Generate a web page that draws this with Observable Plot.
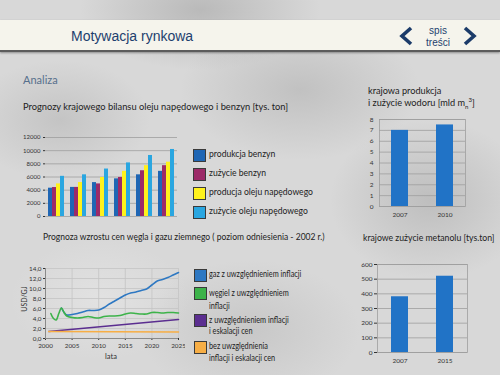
<!DOCTYPE html>
<html>
<head>
<meta charset="utf-8">
<script src="https://cdn.jsdelivr.net/npm/d3@7"></script>
<script src="https://cdn.jsdelivr.net/npm/@observablehq/plot@0.6"></script>
<style>
  html, body { margin: 0; padding: 0; }
  body { width: 500px; height: 375px; overflow: hidden; }
  #page {
    position: relative; width: 500px; height: 375px; overflow: hidden;
    font-family: Lato, "Open Sans", sans-serif; color: #222;
    background:
      radial-gradient(ellipse 90px 60px at 60px 120px, rgba(150,150,150,0.3), rgba(150,150,150,0) 100%),
      radial-gradient(ellipse 120px 70px at 300px 90px, rgba(140,140,140,0.3), rgba(140,140,140,0) 100%),
      radial-gradient(ellipse 100px 80px at 430px 200px, rgba(130,130,130,0.3), rgba(130,130,130,0) 100%),
      radial-gradient(ellipse 110px 70px at 250px 330px, rgba(150,150,150,0.25), rgba(150,150,150,0) 100%),
      radial-gradient(ellipse 90px 60px at 100px 300px, rgba(235,235,235,0.5), rgba(235,235,235,0) 100%),
      radial-gradient(ellipse 120px 60px at 200px 10px, rgba(140,140,140,0.4), rgba(140,140,140,0) 100%),
      #d8d8d8;
  }
  .abs { position: absolute; white-space: nowrap; line-height: 1; }
  #header {
    position: absolute; left: 0; top: 20px; width: 500px; height: 30px;
    background: #f5f4ec; border-bottom: 2px solid #5c5c5c;
    box-shadow: 0 1px 2px rgba(0,0,0,0.35);
  }
  .sw { position: absolute; width: 11px; height: 11px; border: 1px solid #3a3a3a; }
  .chart { position: absolute; }
  .cond { transform: scaleX(0.85); transform-origin: left center; }
</style>
</head>
<body>
<div id="page">
  <div id="header"></div>
  <div class="abs" style="left:71px; top:29px; font-family:'Liberation Sans',Arial,sans-serif; font-size:14px; color:#1d3f6e;">Motywacja rynkowa</div>
  <svg class="chart" style="left:398px; top:26px;" width="20" height="20" viewBox="0 0 20 20">
    <polyline points="13,2 4,10 13,18" fill="none" stroke="#1b3b69" stroke-width="3.6"/>
  </svg>
  <svg class="chart" style="left:460px; top:26px;" width="20" height="20" viewBox="0 0 20 20">
    <polyline points="5,2 14,10 5,18" fill="none" stroke="#1b3b69" stroke-width="3.6"/>
  </svg>
  <div class="abs" style="left:420px; top:25px; width:36px; text-align:center; font-family:'Liberation Sans',Arial,sans-serif; font-size:10px; line-height:12px; color:#1d3f6e;">spis<br>treści</div>

  <div class="abs" style="left:23px; top:74px; font-size:11px; color:#566f8c;">Analiza</div>
  <div class="abs" style="left:23px; top:102px; font-size:9.3px; color:#222;">Prognozy krajowego bilansu oleju napędowego i benzyn [tys. ton]</div>
  <div class="abs" style="left:43px; top:233px; font-size:8.5px; color:#222;">Prognoza wzrostu cen węgla i gazu ziemnego ( poziom odniesienia - 2002 r.)</div>

  <div class="abs" style="left:368px; top:86px; font-size:9.2px; color:#222;">krajowa produkcja</div>
  <div class="abs" style="left:368px; top:97px; font-size:9.2px; color:#222;">i zużycie wodoru [mld m<sub style="font-size:6px;">n</sub><sup style="font-size:6px;">3</sup>]</div>
  <div class="abs" style="left:363px; top:234px; font-size:8.7px; color:#222;">krajowe zużycie metanolu [tys.ton]</div>

  <div id="barLegend"></div>
  <div id="lineLegend"></div>

  <div class="abs" style="left:24px; top:299px; font-size:7px; color:#333; transform:translate(-50%,-50%) rotate(-90deg); transform-origin:center;">USD/GJ</div>
  <div class="abs" style="left:111px; top:357px; font-size:7.5px; color:#333; transform:translate(-50%,-50%);">lata</div>

  <div id="barChart" class="chart" style="left:0px; top:130px;"></div>
  <div id="lineChart" class="chart" style="left:0px; top:255px;"></div>
  <div id="h2Chart" class="chart" style="left:355px; top:110px;"></div>
  <div id="meChart" class="chart" style="left:355px; top:255px;"></div>
</div>
<script>
// ---------- DATA ----------
const barGroups = ["1", "2", "3", "4", "5", "6"];
const barSeries = ["produkcja benzyn", "zużycie benzyn", "producja oleju napędowego", "zużycie oleju napędowego"];
const produkcjaBenzyn = [4300, 4420, 5150, 5720, 6330, 6860];
const zuzycieBenzyn = [4400, 4420, 4950, 5930, 6950, 7720];
const produkcjaOleju = [4950, 5160, 5930, 6860, 7720, 8250];
const zuzycieOleju = [6100, 6330, 7210, 8140, 9270, 10180];
const barYTicks = [0, 2000, 4000, 6000, 8000, 10000, 12000];
const barColors = ["#1f66b4", "#9c2a68", "#fff21c", "#2aa6e0"];

const lineSeries = ["gaz z uwzględnieniem inflacji", "węgiel z uwzględnieniem inflacji", "z uwzględnieniem inflacji i eskalacji cen", "bez uwzględnienia inflacji i eskalacji cen"];
const gasYears = [2003, 2003.5, 2004, 2005, 2006, 2007, 2008, 2009, 2010, 2011, 2012, 2013, 2014, 2015, 2016, 2017, 2018, 2019, 2020, 2021, 2022, 2023, 2024, 2025];
const gasValues = [6.1, 5.2, 4.7, 4.8, 5.0, 5.3, 5.6, 5.6, 5.7, 6.2, 6.9, 7.5, 8.1, 8.7, 9.1, 9.3, 9.6, 9.9, 10.7, 11.5, 11.8, 12.2, 12.7, 13.2];
const coalYears = [2001, 2001.5, 2002, 2002.5, 2003, 2003.5, 2004, 2005, 2006, 2007, 2008, 2009, 2010, 2011, 2012, 2013, 2014, 2015, 2016, 2017, 2018, 2019, 2020, 2021, 2022, 2023, 2024, 2025];
const coalValues = [5.0, 4.0, 3.7, 5.0, 6.1, 5.2, 4.5, 4.2, 4.1, 4.2, 4.4, 4.2, 4.1, 4.4, 4.5, 4.5, 4.6, 4.9, 5.1, 5.0, 4.9, 4.9, 5.2, 5.2, 5.1, 5.2, 5.2, 5.1];
const escYears = [2000.6, 2025];
const escValues = [1.4, 3.8];
const flatYears = [2000.6, 2025];
const flatValues = [1.4, 1.3];
const lineXTicks = [2000, 2005, 2010, 2015, 2020, 2025];
const lineYTicks = [0, 2, 4, 6, 8, 10, 12, 14];
const lineColors = ["#2e78c2", "#3db34a", "#5b2e90", "#f7ae45"];

const h2Years = ["2007", "2010"];
const h2Values = [7.0, 7.5];
const h2Ticks = [0, 1, 2, 3, 4, 5, 6, 7, 8];
const meYears = ["2007", "2015"];
const meValues = [380, 520];
const meTicks = [0, 100, 200, 300, 400, 500, 600];
const smallBarColor = "#2173c6";

// ---------- LEGENDS ----------
const barLegend = document.getElementById("barLegend");
const barLegendY = [155, 174, 193, 212];
barSeries.forEach((s, i) => {
  const sw = document.createElement("div");
  sw.className = "sw";
  sw.style.left = "193px"; sw.style.top = (barLegendY[i] - 6) + "px";
  sw.style.background = barColors[i];
  barLegend.appendChild(sw);
  const t = document.createElement("div");
  t.className = "abs";
  t.style.cssText = `left:209px; top:${barLegendY[i] - 5}px; font-size:8.6px; color:#222;`;
  t.textContent = s;
  barLegend.appendChild(t);
});

const lineLegend = document.getElementById("lineLegend");
const lineLegendSw = [275, 293, 320, 347];
const lineLegendText = [
  [["gaz z uwzględnieniem inflacji", 274]],
  [["węgiel z uwzględnieniem", 293], ["inflacji", 306]],
  [["z uwzględnieniem inflacji", 320], ["i eskalacji cen", 331]],
  [["bez uwzględnienia", 346], ["inflacji i eskalacji cen", 358]]
];
lineSeries.forEach((s, i) => {
  const sw = document.createElement("div");
  sw.className = "sw";
  sw.style.left = "194px"; sw.style.top = (lineLegendSw[i] - 6) + "px";
  sw.style.background = lineColors[i];
  lineLegend.appendChild(sw);
  lineLegendText[i].forEach(([txt, y]) => {
    const t = document.createElement("div");
    t.className = "abs cond";
    t.style.cssText = `left:209px; top:${y - 4.5}px; font-size:8.6px; color:#222;`;
    t.textContent = txt;
    lineLegend.appendChild(t);
  });
});

// ---------- CHARTS ----------
const axisStyle = {background: "transparent", fontFamily: "Lato, 'Open Sans', sans-serif", fontSize: "6px", color: "#333"};

const barValues = [produkcjaBenzyn, zuzycieBenzyn, produkcjaOleju, zuzycieOleju];
const barData = barGroups.flatMap((g, i) => barSeries.map((s, j) => ({g, s, v: barValues[j][i]})));
document.getElementById("barChart").appendChild(Plot.plot({
  width: 185, height: 95,
  marginLeft: 45, marginRight: 8, marginTop: 7, marginBottom: 9,
  style: axisStyle,
  fx: {domain: barGroups, padding: 0, axis: null},
  x: {domain: barSeries, paddingInner: 0, paddingOuter: 0.75, axis: null},
  y: {domain: [0, 12000], ticks: barYTicks, tickSize: 2, tickPadding: 3, tickFormat: d => String(d), label: null},
  color: {domain: barSeries, range: barColors},
  marks: [
    Plot.ruleY(barYTicks, {stroke: "#9e9e9e", strokeWidth: 0.8}),
    Plot.barY(barData, {fx: "g", x: "s", y: "v", fill: "s"})
  ]
}));

const lineData = [
  ...gasYears.map((x, i) => ({x, y: gasValues[i], k: lineSeries[0]})),
  ...coalYears.map((x, i) => ({x, y: coalValues[i], k: lineSeries[1]})),
  ...escYears.map((x, i) => ({x, y: escValues[i], k: lineSeries[2]})),
  ...flatYears.map((x, i) => ({x, y: flatValues[i], k: lineSeries[3]}))
];
document.getElementById("lineChart").appendChild(Plot.plot({
  width: 185, height: 100,
  marginLeft: 45, marginRight: 7, marginTop: 13, marginBottom: 17,
  style: {...axisStyle, fontSize: "6.3px"},
  x: {domain: [2000, 2025], ticks: lineXTicks, tickFormat: d => String(d), tickSize: 2, tickPadding: 3, label: null},
  y: {domain: [0, 14], ticks: lineYTicks, tickFormat: d => d.toFixed(1).replace(".", ","), tickSize: 2, tickPadding: 2, label: null},
  color: {domain: lineSeries, range: lineColors},
  marks: [
    Plot.ruleY(lineYTicks, {stroke: "#c4c4c4", strokeWidth: 0.8}),
    Plot.ruleX(lineXTicks, {stroke: "#c4c4c4", strokeWidth: 0.8}),
    Plot.ruleY([0], {stroke: "#8a8a8a"}),
    Plot.ruleX([2000], {stroke: "#8a8a8a"}),
    Plot.line(lineData, {x: "x", y: "y", z: "k", stroke: "k", strokeWidth: 1.6, curve: "catmull-rom"})
  ]
}));

document.getElementById("h2Chart").appendChild(Plot.plot({
  width: 120, height: 112,
  marginLeft: 24, marginRight: 10, marginTop: 9, marginBottom: 16,
  style: {...axisStyle, fontSize: "6.5px"},
  x: {domain: h2Years, paddingInner: 0.63, paddingOuter: 0.25, tickSize: 0, tickPadding: 6, label: null},
  y: {domain: [0, 8], ticks: h2Ticks, tickSize: 0, tickPadding: 6, label: null},
  marks: [
    Plot.ruleY(h2Ticks, {stroke: "#9e9e9e", strokeWidth: 0.8}),
    Plot.frame({stroke: "#9e9e9e", strokeWidth: 0.8}),
    Plot.barY(h2Years.map((y, i) => ({y, v: h2Values[i]})), {x: "y", y: "v", fill: smallBarColor})
  ]
}));

document.getElementById("meChart").appendChild(Plot.plot({
  width: 122, height: 112,
  marginLeft: 22, marginRight: 10, marginTop: 9, marginBottom: 15,
  style: {...axisStyle, fontSize: "6.5px"},
  x: {domain: meYears, paddingInner: 0.615, paddingOuter: 0.3, tickSize: 0, tickPadding: 6, label: null},
  y: {domain: [0, 600], ticks: meTicks, tickSize: 3, tickPadding: 2, label: null},
  marks: [
    Plot.ruleY(meTicks, {stroke: "#9e9e9e", strokeWidth: 0.8}),
    Plot.frame({stroke: "#9e9e9e", strokeWidth: 0.8}),
    Plot.barY(meYears.map((y, i) => ({y, v: meValues[i]})), {x: "y", y: "v", fill: smallBarColor})
  ]
}));
</script>
</body>
</html>
